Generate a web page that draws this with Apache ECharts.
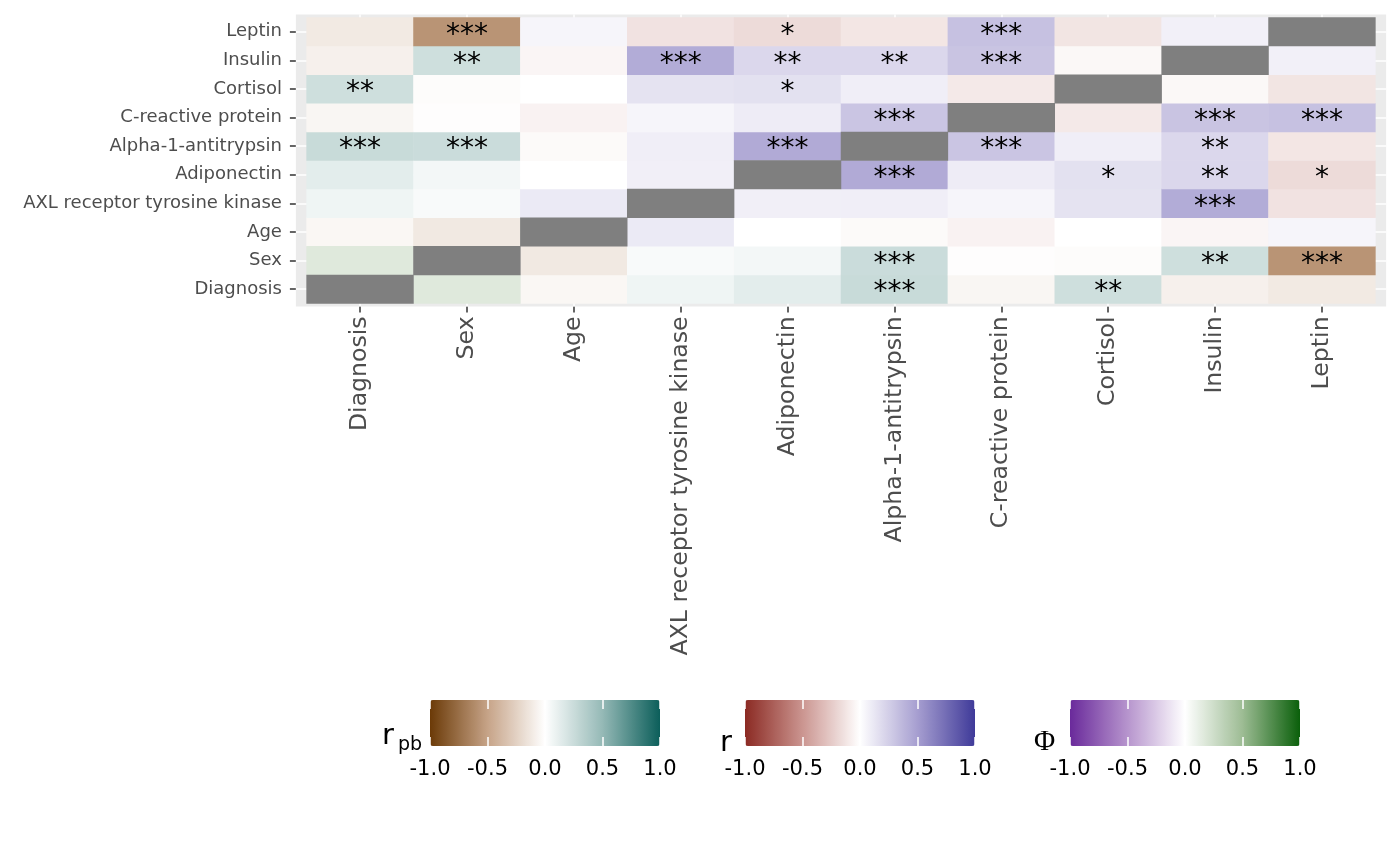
<!DOCTYPE html>
<html>
<head>
<meta charset="utf-8">
<script src="https://cdn.jsdelivr.net/npm/echarts@6/dist/echarts.min.js"></script>
<style>
html,body{margin:0;padding:0;background:#fff;}
#chart{width:1400px;height:866px;}
</style>
</head>
<body>
<div id="chart"></div>
<script>
// ---- data ----
const variables = ['Diagnosis', 'Sex', 'Age', 'AXL receptor tyrosine kinase', 'Adiponectin',
  'Alpha-1-antitrypsin', 'C-reactive protein', 'Cortisol', 'Insulin', 'Leptin'];
const binaryVariables = ['Diagnosis', 'Sex'];
// lower triangle: corrLower[i][j] = correlation of variables[i] with variables[j], j < i
const corrLower = [
  [],
  [0.165],
  [-0.045, -0.12],
  [0.075, 0.035, 0.11],
  [0.13, 0.055, 0.0, 0.08],
  [0.26, 0.25, -0.025, 0.087, 0.44],
  [-0.05, -0.01, -0.06, 0.05, 0.098, 0.30],
  [0.23, -0.015, 0.0, 0.145, 0.155, 0.087, -0.105],
  [-0.08, 0.23, -0.045, 0.43, 0.205, 0.205, 0.305, -0.035],
  [-0.115, -0.57, 0.05, -0.135, -0.17, -0.12, 0.32, -0.125, 0.075]
];
const starsLower = [
  [],
  [''],
  ['', ''],
  ['', '', ''],
  ['', '', '', ''],
  ['***', '***', '', '', '***'],
  ['', '', '', '', '', '***'],
  ['**', '', '', '', '*', '', ''],
  ['', '**', '', '***', '**', '**', '***', ''],
  ['', '***', '', '', '*', '', '***', '', '']
];
const scaleMin = -1, scaleMax = 1, scaleStep = 0.5;

// ---- colours ----
const rpbColors = ['#6B3A07', '#C6A387', '#FFFFFF', '#95B9B6', '#0B5E5A'];
const rColors   = ['#8B2A23', '#CB9590', '#FFFFFF', '#A69ED0', '#3F3A99'];
const phiColors = ['#6A2A9B', '#B694CD', '#FFFFFF', '#9DBC94', '#0A5F0A'];

// ---- build series data ----
const isBin = v => binaryVariables.indexOf(v) >= 0;
const rpbData = [], rData = [], phiData = [], diagData = [];
for (let i = 0; i < variables.length; i++) {
  for (let j = 0; j < variables.length; j++) {
    if (i === j) { diagData.push([i, i, 1]); continue; }
    const a = Math.max(i, j), b = Math.min(i, j);
    const item = { value: [i, j, corrLower[a][b]], stars: starsLower[a][b] };
    const nb = (isBin(variables[i]) ? 1 : 0) + (isBin(variables[j]) ? 1 : 0);
    if (nb === 2) phiData.push(item);
    else if (nb === 1) rpbData.push(item);
    else rData.push(item);
  }
}

const FONT = 'DejaVu Sans';
const chart = echarts.init(document.getElementById('chart'), null, { renderer: 'canvas' });

// geometry
const tileL = 306.6, tileT = 17.5, tileW = 1068.8, tileH = 286;
const padX = 10.7, padY = 2.9;
const colW = tileW / 10, rowH = tileH / 10;
const legendBars = [430, 745, 1070];
const barTop = 700, barLen = 230, barThick = 46;

const grids = [
  { left: tileL - padX, top: tileT - padY, width: tileW + 2 * padX, height: tileH + 2 * padY,
    show: true, backgroundColor: '#EBEBEB', borderWidth: 0, z: 0 },
  { left: tileL + colW / 2, top: tileT - padY, width: tileW - colW, height: tileH + 2 * padY },
  { left: tileL - padX, top: tileT + rowH / 2, width: tileW + 2 * padX, height: tileH - rowH },
  { left: tileL, top: tileT, width: tileW, height: tileH }
];
legendBars.forEach(x => grids.push({ left: x, top: barTop, width: barLen, height: barThick }));

const hidden = { show: false };
const xAxes = [
  { type: 'value', gridIndex: 0, min: 0, max: 1, show: false },
  { type: 'value', gridIndex: 1, min: 0, max: variables.length - 1, interval: 1, z: 1,
    axisLine: hidden, axisTick: hidden, axisLabel: hidden,
    splitLine: { show: true, lineStyle: { color: '#FFFFFF', width: 1.5 } } },
  { type: 'value', gridIndex: 2, min: 0, max: 1, show: false },
  { type: 'category', gridIndex: 3, data: variables, offset: padY,
    axisLine: hidden,
    axisTick: { show: true, alignWithLabel: true, length: 6, lineStyle: { color: '#333333', width: 1.5 } },
    axisLabel: { rotate: 90, margin: 10, color: '#4D4D4D', fontSize: 23.6, fontFamily: FONT, interval: 0 },
    splitLine: hidden, splitArea: hidden }
];
const yAxes = [
  { type: 'value', gridIndex: 0, min: 0, max: 1, show: false },
  { type: 'value', gridIndex: 1, min: 0, max: 1, show: false },
  { type: 'value', gridIndex: 2, min: 0, max: variables.length - 1, interval: 1, z: 1,
    axisLine: hidden, axisTick: hidden, axisLabel: hidden,
    splitLine: { show: true, lineStyle: { color: '#FFFFFF', width: 1.5 } } },
  { type: 'category', gridIndex: 3, data: variables, offset: padX,
    axisLine: hidden,
    axisTick: { show: true, alignWithLabel: true, length: 6, lineStyle: { color: '#333333', width: 1.5 } },
    axisLabel: { margin: 14, color: '#4D4D4D', fontSize: 18, fontFamily: FONT, interval: 0 },
    splitLine: hidden, splitArea: hidden }
];
legendBars.forEach((x, k) => {
  const g = 4 + k;
  xAxes.push({ type: 'value', gridIndex: g, position: 'bottom', min: scaleMin, max: scaleMax, interval: scaleStep, z: 10,
    axisLine: hidden, splitLine: hidden,
    axisTick: { show: true, inside: true, length: 9, lineStyle: { color: '#FFFFFF', width: 1.5 } },
    axisLabel: { show: true, margin: 13, color: '#000000', fontSize: 21, fontFamily: FONT,
      showMinLabel: true, showMaxLabel: true, formatter: v => v.toFixed(1) } });
  xAxes.push({ type: 'value', gridIndex: g, position: 'top', min: scaleMin, max: scaleMax, interval: scaleStep, z: 10,
    axisLine: hidden, splitLine: hidden, axisLabel: hidden,
    axisTick: { show: true, inside: true, length: 9, lineStyle: { color: '#FFFFFF', width: 1.5 } } });
  yAxes.push({ type: 'value', gridIndex: g, min: 0, max: 1, show: false });
});

const starLabel = {
  show: true, formatter: p => p.data.stars || '', color: '#000000',
  fontSize: 28, fontFamily: FONT, offset: [0, 4]
};
const mkHeat = data => ({
  type: 'heatmap', xAxisIndex: 3, yAxisIndex: 3, data: data, label: starLabel,
  emphasis: { disabled: true }, itemStyle: { borderWidth: 0 }, progressive: 0
});

const mkVM = (idx, colors, x) => ({
  type: 'continuous', seriesIndex: idx, dimension: 2, min: scaleMin, max: scaleMax,
  orient: 'horizontal', left: x, top: barTop, itemWidth: barThick, itemHeight: barLen,
  calculable: false, text: null, padding: 0, hoverLink: false, show: true,
  inRange: { color: colors }
});

const option = {
  animation: false,
  backgroundColor: '#FFFFFF',
  grid: grids,
  xAxis: xAxes,
  yAxis: yAxes,
  visualMap: [mkVM(0, rpbColors, legendBars[0]), mkVM(1, rColors, legendBars[1]), mkVM(2, phiColors, legendBars[2])],
  series: [
    mkHeat(rpbData), mkHeat(rData), mkHeat(phiData),
    { type: 'heatmap', xAxisIndex: 3, yAxisIndex: 3, data: diagData, label: { show: false },
      itemStyle: { color: '#7F7F7F' }, emphasis: { disabled: true } }
  ],
  graphic: [
    { type: 'text', x: 382, y: 736, style: { text: 'r', font: '29px "DejaVu Sans"', fill: '#000', verticalAlign: 'middle' } },
    { type: 'text', x: 398, y: 745, style: { text: 'pb', font: '19px "DejaVu Sans"', fill: '#000', verticalAlign: 'middle' } },
    { type: 'text', x: 720, y: 743, style: { text: 'r', font: '29px "DejaVu Sans"', fill: '#000', verticalAlign: 'middle' } },
    { type: 'text', x: 1034, y: 742, style: { text: 'Φ', font: '29px "Liberation Serif"', fill: '#000', verticalAlign: 'middle' } }
  ]
};
chart.setOption(option);
</script>
</body>
</html>
